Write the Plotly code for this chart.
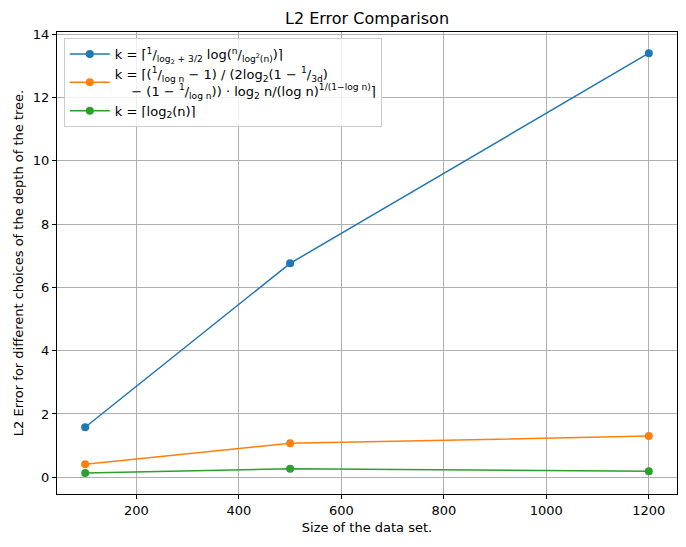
import plotly.graph_objects as go

# data
sizes = [100, 500, 1200]
err_formula1 = [1.58, 6.76, 13.40]
err_formula2 = [0.41, 1.07, 1.30]
err_log2 = [0.136, 0.27, 0.19]

names = [
    "k = ⌈<sup>1</sup>/<sub>log<sub>2</sub> + 3/2</sub> log(<sup>n</sup>/<sub>log<sup>2</sup>(n)</sub>)⌉",
    "k = ⌈(<sup>1</sup>/<sub>log n</sub> − 1) / (2log<sub>2</sub>(1 − <sup>1</sup>/<sub>3d</sub>)"
    "<br>    − (1 − <sup>1</sup>/<sub>log n</sub>)) · log<sub>2</sub> n/(log n)<sup>1/(1−log n)</sup>⌉",
    "k = ⌈log<sub>2</sub>(n)⌉",
]
colors = ["#1f77b4", "#ff7f0e", "#2ca02c"]

fig = go.Figure()
for ys, name, c in zip([err_formula1, err_formula2, err_log2], names, colors):
    fig.add_trace(go.Scatter(x=sizes, y=ys, mode="lines+markers", name=name,
                             line=dict(color=c, width=1.5),
                             marker=dict(color=c, size=8)))

axis_style = dict(showline=True, linecolor="black", linewidth=1, mirror=True,
                  ticks="outside", ticklen=4, tickcolor="black",
                  showgrid=True, gridcolor="#b0b0b0", gridwidth=0.8,
                  zeroline=False, automargin=False,
                  tickfont=dict(size=13, color="black"))

# the page adds an 8px body margin, so margins are shifted by 8px
fig.update_layout(
    width=686, height=547,
    margin=dict(l=49, r=17, t=24, b=61),
    paper_bgcolor="white", plot_bgcolor="white",
    font=dict(family="DejaVu Sans", color="black"),
    title=dict(text="L2 Error Comparison", x=(49 + 669) / 2 / 686, xanchor="center",
               y=1 - 10 / 547, yanchor="middle", font=dict(size=16)),
    xaxis=dict(range=[45, 1255], tickvals=[200, 400, 600, 800, 1000, 1200],
               title=dict(text="Size of the data set.", font=dict(size=13), standoff=6),
               **axis_style),
    yaxis=dict(range=[-0.53, 14.07], tickvals=list(range(0, 15, 2)),
               title=dict(text="L2 Error for different choices of the depth of the tree.",
                          font=dict(size=13), standoff=6),
               **axis_style),
    legend=dict(x=0.011, y=0.987, xanchor="left", yanchor="top",
                bgcolor="rgba(255,255,255,0.8)", bordercolor="#cccccc", borderwidth=1,
                font=dict(size=13), itemwidth=40),
)

fig.write_html("out.html")
